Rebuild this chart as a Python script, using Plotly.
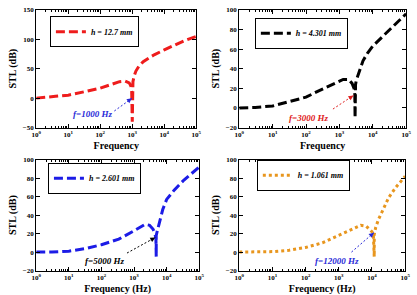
import plotly.graph_objects as go

# ---------------- data ----------------
freq1 = [1, 2, 4, 10, 20, 40, 100, 200, 400, 600, 800, 900, 960, 1000, 1000, 1050, 1150, 1300, 1600, 2200, 3500, 5000, 10000, 20000, 40000, 100000]
stl1 = [0, 1, 3, 5, 8, 12, 17, 23, 28, 29, 26, 21, 10, -40, 20, 28, 38, 46, 54, 62, 69, 74, 82, 90, 97, 105]

freq2 = [1, 3, 10, 30, 100, 300, 1000, 1300, 1900, 2400, 2750, 2900, 2950, 2950, 3050, 3200, 3600, 4200, 5100, 7000, 10000, 20000, 44000, 100000]
stl2 = [0, 0.5, 2, 6, 11, 19, 27, 29, 29, 25, 20, 14, -10, 20, 24, 28, 33, 40, 48, 56, 63, 73, 84, 96]

freq3 = [1, 3, 10, 35, 100, 340, 1000, 2200, 3000, 3800, 4400, 4700, 4800, 4800, 5100, 6000, 7600, 10000, 17000, 34000, 100000]
stl3 = [0, 0, 1, 4, 8, 14, 23, 30, 29, 25, 20, 14, -5, 18, 22, 32, 46, 57, 67, 78, 92]

freq4 = [1, 3, 10, 32, 100, 320, 1000, 2800, 4600, 6700, 8200, 10000, 11000, 11700, 11700, 12200, 13000, 16000, 23000, 32000, 52000, 100000]
stl4 = [0, 0, 0.5, 2, 5, 10, 18, 26, 29, 28, 25, 22, 19, -5, 19, 22, 27, 36, 49, 59, 70, 82]

legend_labels = ["h = 12.7 mm", "h = 4.301 mm", "h = 2.601 mm", "h = 1.061 mm"]
note_labels = ["f=1000 Hz", "f=3000 Hz", "f=5000 Hz", "f=12000 Hz"]
x_titles = ["Frequency", "Frequency", "Frequency (Hz)", "Frequency (Hz)"]
y_title = "STL (dB)"
x_tickvals = [1, 10, 100, 1000, 10000, 100000]
x_ticktext = ["10<sup>%d</sup>" % i for i in range(6)]

# ---------------- styling ----------------
W, H = 417, 295
FONT = "Liberation Serif"
colors = ["#ee1c1c", "#000000", "#1c1ce6", "#e8961e"]
dashes = ["9px,4px", "9px,4px", "9px,4px", "3px,3px"]
note_colors = ["#2a2ad8", "#e02020", "#000000", "#2a2ad8"]

# plot areas in pixels: (left, right, top, bottom)
boxes = [(32, 196, 6, 127), (240, 411, 6, 127), (32, 199, 160, 274), (240, 410, 160, 274)]
yranges = [(-50, 150, 50), (-20, 100, 20), (-20, 100, 20), (-20, 100, 20)]
legend_pos = [(46, 28.5), (256, 30), (44, 179), (258, 176)]
note_pos = [(90, 113), (311, 117), (102, 264), (340, 264)]
arrows = [((112, 110), (130, 97)), ((336, 108), (357, 94)),
          ((125, 256), (154, 240)), ((355, 255), (378, 235))]

px = lambda x: x / W
py = lambda y: 1 - y / H

minor_vals = [m * 10 ** d for d in range(5) for m in range(2, 10)]

fig = go.Figure()
data = [(freq1, stl1), (freq2, stl2), (freq3, stl3), (freq4, stl4)]
layout = dict(
    width=W, height=H, margin=dict(l=0, r=0, t=0, b=0),
    paper_bgcolor="white", plot_bgcolor="white",
    font=dict(family=FONT, color="black"),
    annotations=[], shapes=[],
)

for i, ((f, s), box) in enumerate(zip(data, boxes)):
    n = "" if i == 0 else str(i + 1)
    lg = "legend" if i == 0 else "legend%d" % (i + 1)
    fig.add_trace(go.Scatter(
        x=f, y=s, mode="lines", name=legend_labels[i],
        line=dict(color=colors[i], width=3, dash=dashes[i]),
        xaxis="x" + n, yaxis="y" + n, legend=lg, showlegend=True,
    ))
    l, r, t, b = box
    yr = yranges[i]
    layout["xaxis" + n] = dict(
        type="log", range=[0, 5], domain=[px(l), px(r)], anchor="y" + n,
        tickvals=x_tickvals, ticktext=x_ticktext,
        ticks="inside", ticklen=4, tickwidth=1, tickcolor="black",
        showline=True, linecolor="black", linewidth=1, mirror="ticks",
        showgrid=False, zeroline=False,
        minor=dict(tickvals=minor_vals, ticks="inside", ticklen=2, tickcolor="black", showgrid=False),
        tickfont=dict(family=FONT, size=7, weight="bold"),
        title=dict(text=x_titles[i], font=dict(family=FONT, size=10, weight="bold"), standoff=4),
    )
    layout["yaxis" + n] = dict(
        range=[yr[0], yr[1]], dtick=yr[2], domain=[py(b), py(t)], anchor="x" + n,
        ticks="inside", ticklen=4, tickwidth=1, tickcolor="black",
        showline=True, linecolor="black", linewidth=1, mirror="ticks",
        showgrid=False, zeroline=False,
        tickfont=dict(family=FONT, size=7, weight="bold"),
        title=dict(text=y_title, font=dict(family=FONT, size=10, weight="bold"), standoff=4),
    )
    lx, ly = legend_pos[i]
    layout[lg] = dict(
        x=px(lx), y=py(ly), xanchor="left", yanchor="middle",
        bordercolor="black", borderwidth=1, bgcolor="white",
        font=dict(family=FONT, size=8, weight="bold", style="italic"),
        itemwidth=30, tracegroupgap=0,
    )
    nx, ny = note_pos[i]
    layout["annotations"].append(dict(
        x=px(nx), y=py(ny), xref="paper", yref="paper", text=note_labels[i],
        showarrow=False, xanchor="center", yanchor="middle",
        font=dict(family=FONT, size=9, weight="bold", style="italic", color=note_colors[i]),
    ))
    (x0, y0), (x1, y1) = arrows[i]
    layout["shapes"].append(dict(
        type="line", xref="paper", yref="paper", x0=px(x0), y0=py(y0), x1=px(x1), y1=py(y1),
        line=dict(color=note_colors[i], width=1, dash="2px,2px"),
    ))
    dx, dy = x1 - x0, y1 - y0
    L = (dx * dx + dy * dy) ** 0.5
    layout["annotations"].append(dict(
        x=px(x1), y=py(y1), xref="paper", yref="paper", text="",
        showarrow=True, arrowhead=2, arrowsize=1, arrowwidth=1, arrowcolor=note_colors[i],
        ax=-dx / L * 7, ay=-dy / L * 7,
    ))

fig.update_layout(**layout)
fig.write_html("out.html")
